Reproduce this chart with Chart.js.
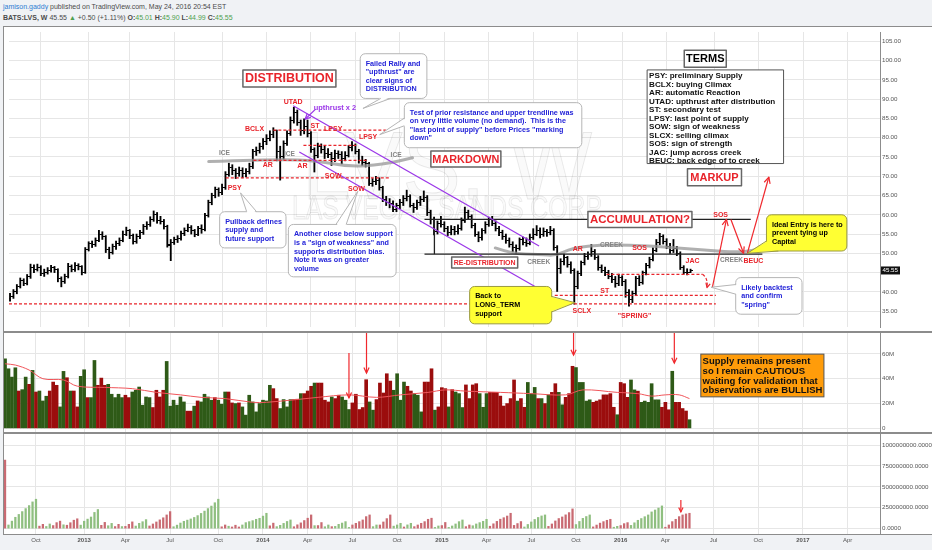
<!DOCTYPE html>
<html>
<head>
<meta charset="utf-8">
<title>LVS weekly</title>
<script src="https://cdn.jsdelivr.net/npm/chart.js@4.4.1/dist/chart.umd.min.js"></script>
<style>
  body { margin: 0; width: 932px; height: 550px; background: #f0f2f5; position: relative; overflow: hidden;
         font-family: "Liberation Sans", Arial, sans-serif; }
  .hd { position: absolute; left: 3px; font-size: 7px; color: #4a4a4a; white-space: nowrap; line-height: 9px; }
  #hd1 { top: 2px; }
  #hd2 { top: 13px; }
  .g { color: #4f9f4f; }
  #panel { position: absolute; left: 3px; top: 26px; width: 929px; height: 507px; background: #fff;
           border-top: 1px solid #8c8c8c; border-left: 1px solid #8c8c8c; border-bottom: 1px solid #8c8c8c; }
  canvas { position: absolute; left: 4px; }
  #c1 { top: 27px; } #c2 { top: 332px; } #c3 { top: 433px; }
  .sep { position: absolute; left: 4px; width: 928px; height: 2px; background: #8c8c8c; }
</style>
</head>
<body>
<div class="hd" id="hd1"><span style="color:#2e7cd2">jamison.gaddy</span> published on TradingView.com, May 24, 2016 20:54 EST</div>
<div class="hd" id="hd2"><b>BATS:LVS, W</b> 45.55 <span class="g">&#9650;</span> +0.50 (+1.11%) <b>O:</b><span class="g">45.01</span> <b>H:</b><span class="g">45.90</span> <b>L:</b><span class="g">44.99</span> <b>C:</b><span class="g">45.55</span></div>
<div id="panel"></div>
<canvas id="c1" width="928" height="305"></canvas>
<canvas id="c2" width="928" height="101"></canvas>
<canvas id="c3" width="928" height="117"></canvas>
<div class="sep" style="top:331px"></div>
<div class="sep" style="top:432px"></div>
<script>
// weekly bars, first bar = week of 2012-07-30, last = 2016-05-23
const open = [
  38.2, 38.7, 40.0, 41.5, 43.0, 42.2, 43.9, 46.4, 45.9, 46.4,
  44.8, 45.1, 45.6, 46.2, 45.8, 43.4, 42.6, 44.0, 46.6, 45.8,
  46.8, 46.5, 45.0, 51.0, 52.5, 52.2, 53.3, 55.0, 54.3, 51.0,
  50.3, 51.8, 52.6, 53.4, 55.0, 55.8, 54.7, 53.1, 54.4, 55.3,
  56.9, 57.5, 58.8, 60.2, 58.5, 58.3, 57.0, 52.0, 52.9, 53.6,
  53.9, 55.2, 56.0, 56.8, 55.8, 55.0, 56.5, 56.2, 59.8, 63.2,
  65.0, 66.5, 65.7, 67.0, 70.5, 72.3, 71.5, 70.7, 71.5, 70.7,
  71.2, 72.5, 76.3, 76.6, 77.6, 79.0, 79.9, 80.9, 81.8, 76.5,
  75.0, 78.5, 81.0, 84.5, 86.5, 84.0, 81.8, 83.0, 81.0, 77.0,
  75.5, 77.6, 77.0, 76.0, 75.7, 74.5, 76.0, 75.7, 74.6, 75.5,
  77.4, 78.0, 76.5, 74.0, 73.6, 73.2, 68.2, 68.6, 69.0, 67.0,
  64.0, 63.1, 63.0, 61.5, 62.3, 63.1, 64.2, 64.8, 62.5, 62.0,
  63.1, 64.0, 64.6, 60.5, 58.9, 55.6, 57.8, 57.5, 56.4, 55.4,
  56.2, 55.6, 56.5, 58.5, 60.6, 59.5, 57.2, 55.0, 54.0, 55.8,
  57.5, 58.9, 57.8, 56.4, 55.3, 54.3, 53.2, 52.4, 51.4, 51.2,
  53.5, 52.9, 52.6, 54.0, 55.0, 56.0, 54.9, 55.6, 55.3, 56.0,
  51.5, 46.0, 47.8, 48.8, 47.2, 45.5, 41.4, 44.7, 47.5, 49.3,
  49.8, 50.5, 49.0, 46.2, 45.6, 45.0, 44.1, 43.2, 42.1, 43.6,
  42.8, 39.8, 38.0, 39.5, 43.5, 42.4, 44.9, 46.8, 48.5, 50.8,
  52.8, 54.3, 53.0, 51.8, 50.7, 51.2, 50.0, 46.2, 45.1, 45.01
];
const high = [
  39.6, 40.6, 41.9, 43.6, 43.4, 44.5, 47.2, 47.0, 47.2, 46.8,
  45.9, 46.3, 46.9, 46.6, 46.0, 43.9, 44.6, 47.4, 47.0, 47.6,
  47.3, 46.8, 51.5, 53.0, 53.2, 54.0, 56.0, 55.6, 54.6, 51.6,
  52.4, 53.2, 54.0, 55.8, 56.8, 56.2, 55.0, 55.0, 56.0, 57.5,
  58.2, 59.5, 61.0, 60.6, 59.6, 58.8, 57.3, 53.6, 54.2, 54.6,
  55.8, 56.6, 57.6, 57.2, 56.2, 57.0, 57.4, 60.4, 63.8, 65.6,
  67.2, 67.0, 68.0, 71.2, 73.4, 73.0, 72.0, 72.4, 72.2, 72.0,
  73.4, 77.0, 77.6, 78.6, 79.8, 80.8, 81.8, 82.6, 82.0, 77.8,
  79.2, 81.8, 85.4, 87.9, 87.2, 84.6, 84.9, 84.6, 81.6, 77.4,
  78.6, 78.4, 77.8, 77.2, 76.2, 76.8, 76.6, 76.4, 76.4, 78.0,
  79.0, 78.4, 77.0, 75.2, 74.4, 73.6, 69.4, 70.0, 69.6, 67.4,
  64.8, 64.2, 63.6, 63.0, 64.0, 65.0, 66.4, 65.2, 63.0, 63.8,
  64.8, 66.2, 65.0, 61.2, 59.4, 58.4, 59.6, 58.2, 57.0, 57.2,
  57.0, 57.4, 59.2, 62.0, 61.2, 60.0, 57.8, 55.6, 56.4, 58.2,
  59.4, 59.6, 58.4, 57.0, 56.0, 55.0, 54.0, 53.0, 52.2, 54.0,
  54.2, 54.0, 55.0, 56.4, 57.2, 56.6, 56.6, 56.2, 57.0, 56.4,
  52.0, 48.6, 49.8, 49.2, 47.8, 46.0, 45.4, 48.0, 50.0, 50.4,
  52.3, 51.0, 49.4, 47.0, 46.4, 45.6, 44.8, 44.0, 44.6, 44.2,
  43.2, 40.6, 40.2, 44.0, 44.2, 45.4, 47.4, 49.0, 51.4, 53.6,
  55.2, 54.8, 53.8, 52.6, 53.6, 51.8, 50.4, 46.8, 46.0, 45.90
];
const low = [
  37.6, 38.3, 39.5, 41.0, 41.6, 41.8, 43.5, 45.0, 45.4, 44.2,
  44.0, 44.6, 45.1, 45.0, 42.6, 41.3, 42.2, 43.6, 45.2, 45.3,
  45.7, 44.4, 44.8, 50.6, 51.5, 51.8, 53.0, 53.6, 50.2, 48.6,
  49.8, 51.0, 52.0, 53.0, 54.6, 53.8, 52.4, 52.6, 53.8, 54.9,
  56.2, 57.0, 58.3, 57.8, 57.6, 56.3, 51.6, 48.1, 52.3, 52.8,
  53.4, 54.6, 55.6, 55.0, 54.3, 54.6, 55.2, 55.8, 59.4, 62.6,
  64.4, 64.8, 65.2, 66.6, 70.0, 70.4, 69.4, 70.0, 69.6, 69.8,
  70.6, 72.0, 75.4, 76.0, 77.0, 78.2, 79.2, 80.0, 74.0, 69.0,
  74.4, 78.0, 80.6, 83.8, 83.2, 80.6, 81.0, 80.2, 76.2, 71.1,
  74.8, 76.0, 74.6, 74.8, 72.8, 73.8, 74.6, 73.2, 74.0, 75.0,
  76.6, 75.8, 73.4, 72.8, 72.4, 67.6, 67.4, 67.8, 66.4, 63.4,
  62.4, 61.8, 60.8, 60.8, 61.6, 62.4, 63.6, 62.0, 60.6, 61.4,
  62.4, 63.4, 59.8, 57.6, 54.8, 55.0, 56.8, 55.6, 54.6, 54.8,
  54.8, 55.0, 56.0, 58.0, 58.8, 56.6, 54.4, 53.0, 53.4, 55.2,
  57.0, 57.2, 55.8, 54.6, 53.6, 52.6, 51.6, 50.4, 50.0, 50.8,
  52.2, 51.8, 52.2, 53.6, 54.6, 54.0, 54.4, 54.4, 54.8, 50.8,
  40.1, 44.8, 47.0, 46.4, 44.8, 36.8, 40.8, 44.2, 47.0, 48.4,
  49.2, 48.4, 45.6, 45.0, 44.2, 43.4, 42.4, 41.2, 41.6, 41.6,
  38.6, 36.3, 37.2, 39.0, 41.6, 42.0, 44.4, 46.2, 48.0, 50.4,
  52.2, 52.4, 51.2, 50.0, 50.2, 49.4, 45.8, 44.6, 44.4, 44.99
];
const close = [
  38.7, 40.0, 41.5, 43.0, 42.2, 43.9, 46.4, 45.9, 46.4, 44.8,
  45.1, 45.6, 46.2, 45.8, 43.4, 42.6, 44.0, 46.6, 45.8, 46.8,
  46.5, 45.0, 51.0, 52.5, 52.2, 53.3, 55.0, 54.3, 51.0, 50.3,
  51.8, 52.6, 53.4, 55.0, 55.8, 54.7, 53.1, 54.4, 55.3, 56.9,
  57.5, 58.8, 60.2, 58.5, 58.3, 57.0, 52.2, 52.9, 53.6, 53.9,
  55.2, 56.0, 56.8, 55.8, 55.0, 56.5, 56.2, 59.8, 63.2, 65.0,
  66.5, 65.7, 67.0, 70.5, 72.3, 71.5, 70.7, 71.5, 70.7, 71.2,
  72.5, 76.3, 76.6, 77.6, 79.0, 79.9, 80.9, 81.8, 76.5, 75.0,
  78.5, 81.0, 84.5, 86.5, 84.0, 81.8, 83.0, 81.0, 77.0, 75.5,
  77.6, 77.0, 76.0, 75.7, 74.5, 76.0, 75.7, 74.6, 75.5, 77.4,
  78.0, 76.5, 74.0, 73.6, 73.2, 68.2, 68.6, 69.0, 67.0, 64.0,
  63.1, 63.0, 61.5, 62.3, 63.1, 64.2, 64.8, 62.5, 62.0, 63.1,
  64.0, 64.6, 60.5, 58.9, 55.6, 57.8, 57.5, 56.4, 55.4, 56.2,
  55.6, 56.5, 58.5, 60.6, 59.5, 57.2, 55.0, 54.0, 55.8, 57.5,
  58.9, 57.8, 56.4, 55.3, 54.3, 53.2, 52.4, 51.4, 51.2, 53.5,
  52.9, 52.6, 54.0, 55.0, 56.0, 54.9, 55.6, 55.3, 56.0, 51.5,
  46.0, 47.8, 48.8, 47.2, 45.5, 41.4, 44.7, 47.5, 49.3, 49.8,
  50.5, 49.0, 46.2, 45.6, 45.0, 44.1, 43.2, 42.1, 43.6, 42.8,
  39.8, 38.0, 39.5, 43.5, 42.4, 44.9, 46.8, 48.5, 50.8, 52.8,
  54.3, 53.0, 51.8, 50.7, 51.2, 50.0, 46.2, 45.1, 45.05, 45.55
];
// weekly volume, millions
const volume = [
  56.0, 48.0, 41.3, 48.8, 30.1, 31.2, 41.3, 35.5, 46.7, 29.3,
  30.1, 22.1, 25.9, 30.1, 37.3, 34.7, 17.3, 45.9, 40.8, 30.1,
  30.1, 17.3, 41.9, 47.2, 24.8, 24.8, 54.7, 34.7, 40.5, 34.7,
  35.5, 27.5, 24.8, 27.5, 24.8, 26.7, 24.8, 29.3, 30.7, 33.3,
  18.7, 25.3, 24.8, 16.8, 30.7, 25.3, 30.7, 53.9, 17.9, 22.7,
  18.7, 25.3, 21.3, 13.9, 13.9, 17.9, 22.1, 21.3, 27.5, 25.3,
  22.7, 24.8, 22.7, 19.5, 29.3, 29.3, 20.5, 20.0, 20.5, 17.3,
  10.7, 26.7, 21.3, 13.3, 20.0, 22.7, 22.1, 34.7, 32.0, 24.0,
  16.0, 23.2, 17.3, 23.2, 23.2, 23.5, 28.0, 28.0, 30.1, 33.9,
  36.5, 36.5, 36.5, 22.7, 21.3, 25.3, 24.0, 26.7, 25.3, 22.7,
  15.2, 20.5, 27.5, 15.2, 16.8, 39.2, 21.3, 14.7, 23.2, 36.5,
  28.5, 44.0, 38.1, 30.7, 44.0, 22.7, 37.3, 33.9, 30.1, 28.0,
  26.7, 13.3, 37.3, 37.3, 48.0, 14.7, 17.3, 32.8, 32.0, 17.3,
  31.2, 29.3, 28.0, 16.8, 35, 24, 35, 36, 28, 17,
  28, 29, 29, 29, 26, 18, 20, 24, 39, 22,
  24, 17, 37, 28, 33, 24, 24, 20, 27, 29,
  36, 29, 19, 25, 28, 50, 49, 37, 37, 22,
  23, 21, 22, 23, 27, 27, 28, 17, 11, 37,
  36, 25, 39, 31, 30, 21, 22, 21, 36, 23,
  23, 17, 21, 15, 46, 21, 21, 16, 14, 7
];
// volume moving average, read at a few bars
const volMaIdx = [0, 3, 7, 11, 17, 21, 29, 37, 44, 51, 57, 64, 72, 76, 84, 91, 100, 108, 115, 123, 128, 134, 144, 153, 163, 168, 178, 184, 188, 192, 196, 199];
const volMaVal = [52, 51, 47, 40, 39, 34, 33, 32, 29, 27, 25, 24, 21, 21, 23, 25, 27, 25, 27, 29, 31, 30, 29, 28, 27, 31, 29, 28, 26, 27, 27, 24];
// wave volume, millions; sign = wave direction (+ up, - down)
const wave = [
  -820, 44, 90, 136, 170, 204, 240, 276, 320, 352,
  -30, -52, 26, 56, -37, -72, -90, 46, -41, -71,
  -101, -118, 42, 89, 114, 139, 194, 229, -40, -75,
  35, 63, -25, -52, 25, -27, -52, -81, 31, 64,
  83, 108, -32, -56, -80, -105, -130, -164, -204, 23,
  42, 67, 88, 102, 116, 134, 156, 182, 210, 240,
  270, 310, 352, -22, -44, 29, -20, -41, -20, 44,
  72, 84, 96, 112, 124, 150, 184, -34, -66, 24,
  40, 63, 86, 104, -23, -46, -69, -97, -125, -164,
  36, -37, -73, 23, 44, -24, 27, 52, 67, 84,
  15, -44, -64, -84, -104, -144, -164, 24, 44, -44,
  -80, -120, -164, 30, 44, 64, -20, 45, 64, -24,
  -44, -64, -84, -112, -125, 15, 32, -37, -74, 15,
  32, 56, 84, 104, -24, -44, 35, 56, 72, 88,
  112, -29, -58, -87, -113, -131, -151, -184, -39, -61,
  -85, 20, 50, 80, 110, 134, 152, 164, -27, -56,
  -92, -121, -140, -165, -192, -236, 49, 86, 123, 145,
  164, -21, -43, -66, -84, -100, -112, 17, 28, -37,
  -60, -72, 39, 70, 100, 121, 143, 164, 200, 223,
  246, 272, -17, -44, -84, -112, -144, -164, -176, -184
];
const xTickIdx = [9, 23, 35, 48, 62, 75, 88, 101, 114, 127, 140, 153, 166, 179, 192, 206, 219, 232, 245];
const xTickText = ['Oct', '2013', 'Apr', 'Jul', 'Oct', '2014', 'Apr', 'Jul', 'Oct', '2015', 'Apr', 'Jul', 'Oct', '2016', 'Apr', 'Jul', 'Oct', '2017', 'Apr'];
const priceTicks = [35, 40, 45, 50, 55, 60, 65, 70, 75, 80, 85, 90, 95, 100, 105];
const volTicks = [0, 20, 40, 60];
const waveTicks = [0, 250, 500, 750, 1000];

const FONT = '"Liberation Sans", Arial, sans-serif';
const RED = '#e8242b', BLUE = '#2323d8', PURPLE = '#9b37e8', GRAY = '#858585';
const idx = close.map((_, i) => i);
const up = close.map((c, i) => c >= open[i]);

// ---- chart notes (bar index / value units) ----
const redTags = [['UTAD', 82.8, 89.35], ['BCLX', 71.5, 82.3], ['ST', 89.2, 83.1], ['LPSY', 94.5, 82.2], ['LPSY', 104.7, 80.3],
  ['AR', 75.4, 72.8], ['AR', 85.5, 72.6], ['PSY', 65.7, 66.9], ['SOW', 94.5, 70.1], ['SOW', 101.3, 66.7],
  ['AR', 166, 51.0], ['SOS', 184.1, 51.4], ['SOS', 207.8, 60.0], ['JAC', 199.6, 47.9], ['ST', 173.9, 40.1],
  ['SCLX', 167.2, 35.1], ['"SPRING"', 182.6, 33.8], ['BEUC', 217.4, 48.1]];
const grayTags = [['ICE', 62.7, 75.9], ['ICE', 81.7, 75.7], ['ICE', 112.9, 75.5], ['CREEK', 154.6, 47.6], ['CREEK', 175.9, 52.2], ['CREEK', 211.0, 48.1]];
const boxTags = [
  { t: 'DISTRIBUTION', i: 81.7, p: 95.4, w: 93, h: 17, size: 12.5, color: RED },
  { t: 'MARKDOWN', i: 133.3, p: 74.5, w: 70, h: 16, size: 11.5, color: RED },
  { t: 'ACCUMULATION?', i: 184.2, p: 58.8, w: 104, h: 16, size: 11.5, color: RED },
  { t: 'MARKUP', i: 206, p: 69.75, w: 54, h: 17, size: 11, color: RED },
  { t: 'TERMS', i: 203.3, p: 100.5, w: 42, h: 17, size: 11, color: '#000' },
  { t: 'RE-DISTRIBUTION', i: 138.8, p: 47.6, w: 66, h: 11, size: 7, color: RED }
];
const terms = ['PSY: preliminary Supply', 'BCLX: buying Climax', 'AR: automatic Reaction', 'UTAD: upthrust after distribution',
  'ST: secondary test', 'LPSY: last point of supply', 'SOW: sign of weakness', 'SLCX: selling climax',
  'SOS: sign of strength', 'JAC: jump across creek', 'BEUC: back edge of to creek'];
const callouts = [
  { r: [102.4, 101.8, 121.9, 90.2], ptr: [108.4, 90.2, 111.3, 90.2, 103.2, 87.6], lines: ['Failed Rally and', '"upthrust" are', 'clear signs of', 'DISTRIBUTION'] },
  { r: [115.3, 89.1, 167.2, 77.4], ptr: [115.3, 85.1, 115.3, 83.1, 108.1, 80.8], lines: ['Test of prior resistance and upper trendline was', 'on very little volume (no demand).  This is the', '"last point of supply" before Prices "marking', 'down"'] },
  { r: [61.3, 60.8, 80.7, 51.4], ptr: [69.2, 60.8, 72.1, 60.8, 67.4, 65.7], lines: ['Pullback defines', 'supply and', 'future support'] },
  { r: [81.4, 57.5, 112.9, 43.9], ptr: [95.3, 57.5, 98.3, 57.5, 101.7, 66.1], lines: ['Another close below support', 'is a "sign of weakness" and', 'supports distribution bias.', 'Note it was on greater', 'volume'] },
  { r: [134.4, 41.4, 158.4, 31.7], ptr: [158.4, 38.8, 158.4, 34.8, 165.2, 37.2], fill: '#ffff33', color: '#000', stroke: '#9a9a40', lines: ['Back to', 'LONG_TERM', 'support'] },
  { r: [221.2, 60.0, 244.7, 50.6], ptr: [221.2, 53.2, 224.7, 50.6, 215.6, 50.0], fill: '#ffff33', color: '#000', stroke: '#9a9a40', lines: ['Ideal Entry is here to', 'prevent tying up', 'Capital'] },
  { r: [212.2, 43.7, 231.6, 34.2], ptr: [212.2, 41.9, 212.2, 39.4, 205, 41.2], lines: ['Likely backtest', 'and confirm', '"spring"'] }
];
const dashedRed = [[77, 109.9, 82.0], [85.8, 101.2, 78.0], [71.2, 104.7, 74.1], [63.1, 111.3, 69.6], [-0.3, 206.4, 36.9], [159.3, 206.4, 39.1], [174.4, 202.5, 44.55]];
const blackLevels = [[121.2, 216.6, 58.8], [121.2, 220, 49.8]];
const purpleLines = [[82.8, 88.3, 154.7, 51.9], [84.6, 76.3, 153.5, 41.4]];
const iceCurve = [[58.1, 73.8], [78.5, 74.5], [90.1, 74.0], [98.8, 72.5], [109.0, 73.0], [117.7, 74.8]];
const creekCurve = [[141.9, 51.4], [146.8, 49.9], [154.7, 49.7], [159.9, 49.4], [164.2, 51.4], [173.8, 52.3], [188.4, 51.9], [202.0, 50.9], [215.7, 50.1], [221.5, 52.4]];
const markupPath = [[205.4, 41.2, 209.5, 58.8], [210.8, 58.8, 214.5, 50.0], [215.6, 50.0, 221.9, 69.8]];
const volArrows = [[100, 60.6, 24.6], [105.1, 77, 44.6], [165.3, 77, 59], [194.6, 77, 52.6]];

function arrowHead(ctx, x1, y1, x2, y2, len) {
  const a = Math.atan2(y2 - y1, x2 - x1);
  ctx.beginPath();
  ctx.moveTo(x2 - len * Math.cos(a - 0.45), y2 - len * Math.sin(a - 0.45));
  ctx.lineTo(x2, y2);
  ctx.lineTo(x2 - len * Math.cos(a + 0.45), y2 - len * Math.sin(a + 0.45));
  ctx.stroke();
}
function smooth(ctx, pts) {
  ctx.beginPath();
  ctx.moveTo(pts[0][0], pts[0][1]);
  for (let k = 1; k < pts.length - 1; k++) {
    const mx = (pts[k][0] + pts[k + 1][0]) / 2, my = (pts[k][1] + pts[k + 1][1]) / 2;
    ctx.quadraticCurveTo(pts[k][0], pts[k][1], mx, my);
  }
  const l = pts[pts.length - 1];
  ctx.lineTo(l[0], l[1]);
  ctx.stroke();
}
function callout(ctx, X, Y, c) {
  const x1 = X(c.r[0]), y1 = Y(c.r[1]), x2 = X(c.r[2]), y2 = Y(c.r[3]);
  const cx = (x1 + x2) / 2, cy = (y1 + y2) / 2;
  ctx.fillStyle = c.fill || '#fff';
  ctx.strokeStyle = c.stroke || '#b5b5b5';
  ctx.lineWidth = 1;
  ctx.beginPath(); ctx.roundRect(x1, y1, x2 - x1, y2 - y1, 5); ctx.fill(); ctx.stroke();
  const [ia, pa, ib, pb, it, pt] = c.ptr;
  const pull = (px, py) => { const d = Math.hypot(cx - px, cy - py); return [px + (cx - px) / d * 1.5, py + (cy - py) / d * 1.5]; };
  const a = pull(X(ia), Y(pa)), b = pull(X(ib), Y(pb));
  ctx.beginPath(); ctx.moveTo(a[0], a[1]); ctx.lineTo(X(it), Y(pt)); ctx.lineTo(b[0], b[1]); ctx.closePath(); ctx.fill();
  ctx.beginPath(); ctx.moveTo(X(ia), Y(pa)); ctx.lineTo(X(it), Y(pt)); ctx.lineTo(X(ib), Y(pb)); ctx.stroke();
  ctx.fillStyle = c.color || BLUE;
  ctx.font = 'bold 7.2px ' + FONT;
  ctx.textAlign = 'left'; ctx.textBaseline = 'middle';
  c.lines.forEach((t, k) => ctx.fillText(t, x1 + 5.5, y1 + 10 + k * 8.55));
}

const priceNotes = {
  id: 'priceNotes',
  beforeDatasetsDraw(chart) {
    const { ctx, chartArea: a } = chart;
    ctx.save();
    ctx.textAlign = 'center'; ctx.textBaseline = 'middle';
    ctx.fillStyle = 'rgba(0,0,0,0.018)';
    ctx.strokeStyle = 'rgba(0,0,0,0.09)';
    ctx.lineWidth = 1;
    ctx.font = '96px ' + FONT;
    ctx.fillText('LVS, W', a.left + 438, a.top + 141, 290);
    ctx.strokeText('LVS, W', a.left + 438, a.top + 141, 290);
    ctx.font = '34px ' + FONT;
    ctx.fillText('LAS VEGAS SANDS CORP', a.left + 438, a.top + 178, 310);
    ctx.strokeText('LAS VEGAS SANDS CORP', a.left + 438, a.top + 178, 310);
    ctx.restore();
  },
  afterDatasetsDraw(chart) {
    const { ctx, chartArea: a, scales: { x, y } } = chart;
    const X = v => x.getPixelForValue(v), Y = v => y.getPixelForValue(v);
    ctx.save();
    ctx.beginPath(); ctx.rect(a.left, a.top, a.width, a.height); ctx.clip();
    ctx.lineCap = 'round'; ctx.lineJoin = 'round';
    // ice / creek
    ctx.strokeStyle = 'rgba(150,150,150,0.75)'; ctx.lineWidth = 3;
    smooth(ctx, iceCurve.map(q => [X(q[0]), Y(q[1])]));
    smooth(ctx, creekCurve.map(q => [X(q[0]), Y(q[1])]));
    // levels
    ctx.lineCap = 'butt';
    ctx.strokeStyle = RED; ctx.lineWidth = 1.2; ctx.setLineDash([3, 2]);
    dashedRed.forEach(([i1, i2, p]) => { ctx.beginPath(); ctx.moveTo(X(i1), Y(p)); ctx.lineTo(X(i2), Y(p)); ctx.stroke(); });
    ctx.beginPath(); ctx.moveTo(X(202.5), Y(44.55)); ctx.quadraticCurveTo(X(204.2), Y(43.5), X(203.8), Y(41.1)); ctx.stroke();
    ctx.setLineDash([]);
    arrowHead(ctx, X(204.2), Y(42.5), X(203.8), Y(41.1), 5);
    ctx.strokeStyle = '#222'; ctx.lineWidth = 1.3;
    blackLevels.forEach(([i1, i2, p]) => { ctx.beginPath(); ctx.moveTo(X(i1), Y(p)); ctx.lineTo(X(i2), Y(p)); ctx.stroke(); });
    ctx.beginPath(); ctx.moveTo(X(124.1), Y(58.8)); ctx.lineTo(X(124.1), Y(49.8)); ctx.stroke();
    // channel
    ctx.strokeStyle = PURPLE; ctx.lineWidth = 1.3;
    purpleLines.forEach(([i1, p1, i2, p2]) => { ctx.beginPath(); ctx.moveTo(X(i1), Y(p1)); ctx.lineTo(X(i2), Y(p2)); ctx.stroke(); });
    ctx.beginPath(); ctx.moveTo(X(89.2), Y(87.3)); ctx.lineTo(X(86.3), Y(84.8)); ctx.stroke();
    arrowHead(ctx, X(89.2), Y(87.3), X(86.3), Y(84.8), 6);
    // markup path
    ctx.strokeStyle = '#f0282d'; ctx.lineWidth = 1.2;
    markupPath.forEach(([i1, p1, i2, p2]) => {
      ctx.beginPath(); ctx.moveTo(X(i1), Y(p1)); ctx.lineTo(X(i2), Y(p2)); ctx.stroke();
      arrowHead(ctx, X(i1), Y(p1), X(i2), Y(p2), 7);
    });
    // callouts
    callouts.forEach(c => callout(ctx, X, Y, c));
    // terms list
    const tx1 = X(186.3), ty1 = Y(97.6), tx2 = X(226.2), ty2 = Y(73.3);
    ctx.fillStyle = '#fff'; ctx.strokeStyle = '#555'; ctx.lineWidth = 1;
    ctx.fillRect(tx1, ty1, tx2 - tx1, ty2 - ty1); ctx.strokeRect(tx1, ty1, tx2 - tx1, ty2 - ty1);
    ctx.fillStyle = '#111'; ctx.font = 'bold 8.1px ' + FONT; ctx.textAlign = 'left'; ctx.textBaseline = 'middle';
    terms.forEach((t, k) => ctx.fillText(t, tx1 + 2, ty1 + 6.3 + k * 8.47, tx2 - tx1 - 4));
    // boxed titles
    boxTags.forEach(b => {
      const cx = X(b.i), cy = Y(b.p);
      ctx.fillStyle = '#fff'; ctx.strokeStyle = '#666'; ctx.lineWidth = 1.5;
      ctx.fillRect(cx - b.w / 2, cy - b.h / 2, b.w, b.h); ctx.strokeRect(cx - b.w / 2, cy - b.h / 2, b.w, b.h);
      ctx.fillStyle = b.color; ctx.font = 'bold ' + b.size + 'px ' + FONT; ctx.textAlign = 'center';
      ctx.fillText(b.t, cx, cy + 0.5, b.w - 3);
    });
    // small tags
    ctx.textAlign = 'center';
    ctx.font = 'bold 7px ' + FONT; ctx.fillStyle = RED;
    redTags.forEach(([t, i, p]) => ctx.fillText(t, X(i), Y(p)));
    ctx.font = 'bold 6.6px ' + FONT; ctx.fillStyle = GRAY;
    grayTags.forEach(([t, i, p]) => ctx.fillText(t, X(i), Y(p)));
    ctx.font = 'bold 7.4px ' + FONT; ctx.fillStyle = PURPLE;
    ctx.fillText('upthrust x 2', X(95), Y(87.8));
    ctx.restore();
  },
  afterDraw(chart) {
    const { ctx, chartArea: a, scales: { y } } = chart;
    const last = close[close.length - 1], yy = y.getPixelForValue(last);
    ctx.save();
    ctx.fillStyle = '#111'; ctx.fillRect(a.right + 1, yy - 4, 19, 8);
    ctx.fillStyle = '#fff'; ctx.font = '6.2px ' + FONT; ctx.textAlign = 'left'; ctx.textBaseline = 'middle';
    ctx.fillText(last.toFixed(2), a.right + 2.5, yy + 0.3);
    ctx.restore();
  }
};

const volNotes = {
  id: 'volNotes',
  afterDatasetsDraw(chart) {
    const { ctx, scales: { x, y } } = chart;
    const X = v => x.getPixelForValue(v), Y = v => y.getPixelForValue(v);
    ctx.save();
    ctx.strokeStyle = '#f0282d'; ctx.lineWidth = 1.2;
    volArrows.forEach(([i, v1, v2]) => {
      ctx.beginPath(); ctx.moveTo(X(i), Y(v1)); ctx.lineTo(X(i), Y(v2)); ctx.stroke();
      arrowHead(ctx, X(i), Y(v1), X(i), Y(v2), 6);
    });
    const bx1 = X(202.3), by1 = Y(59.8), bx2 = X(238.1), by2 = Y(25.4);
    ctx.fillStyle = '#ff9c0a'; ctx.strokeStyle = '#555'; ctx.lineWidth = 1;
    ctx.fillRect(bx1, by1, bx2 - bx1, by2 - by1); ctx.strokeRect(bx1, by1, bx2 - bx1, by2 - by1);
    ctx.fillStyle = '#111'; ctx.font = 'bold 9.5px ' + FONT; ctx.textAlign = 'left'; ctx.textBaseline = 'middle';
    ['Supply remains present', 'so I remain CAUTIOUS', 'waiting for validation that', 'observations are BULLISH']
      .forEach((t, k) => ctx.fillText(t, bx1 + 1.8, by1 + 7.7 + k * 9.67, bx2 - bx1 - 3));
    ctx.restore();
  }
};
const waveNotes = {
  id: 'waveNotes',
  afterDatasetsDraw(chart) {
    const { ctx, scales: { x, y } } = chart;
    const X = v => x.getPixelForValue(v), Y = v => y.getPixelForValue(v);
    ctx.save();
    ctx.strokeStyle = '#f0282d'; ctx.lineWidth = 1.2;
    ctx.beginPath(); ctx.moveTo(X(196.5), Y(344)); ctx.lineTo(X(196.5), Y(200)); ctx.stroke();
    arrowHead(ctx, X(196.5), Y(344), X(196.5), Y(200), 5);
    ctx.restore();
  }
};

function xAxis(show) {
  return {
    type: 'linear', min: -0.3, max: 254.4, bounds: 'data', offset: false,
    afterBuildTicks: s => { s.ticks = xTickIdx.map(v => ({ value: v })); },
    grid: { color: '#e6e6e6', drawTicks: false, offset: false },
    border: { display: false },
    ticks: show ? {
      autoSkip: false, maxRotation: 0, padding: 3, color: '#555',
      callback: (v, k) => xTickText[k],
      font: c => ({ size: 6, family: FONT, weight: /^\d{4}$/.test(xTickText[c.index]) ? 'bold' : 'normal' })
    } : { display: false },
    afterFit: s => { s.height = show ? 16 : 0; s.paddingLeft = 0; s.paddingRight = 0; }
  };
}
function yAxis(min, max, ticks, fmt) {
  return {
    position: 'right', min, max, bounds: 'data', beginAtZero: false,
    afterBuildTicks: s => { s.ticks = ticks.map(v => ({ value: v })); },
    ticks: { callback: fmt, font: { size: 6.2, family: FONT }, color: '#555', padding: 2 },
    grid: { color: '#e6e6e6', drawTicks: false },
    border: { display: true, color: '#8c8c8c' },
    afterFit: s => { s.width = 52; s.paddingTop = 0; s.paddingBottom = 0; }
  };
}
const common = {
  responsive: false, animation: false, devicePixelRatio: 1, events: [],
  layout: { padding: 0 },
  plugins: { legend: { display: false }, tooltip: { enabled: false } }
};
function tickImg(left) {
  const c = document.createElement('canvas');
  c.width = 5; c.height = 1;
  const g = c.getContext('2d');
  g.fillStyle = '#000';
  g.fillRect(left ? 0 : 3, 0, 2, 1);
  return c;
}

new Chart(document.getElementById('c1'), {
  type: 'bar',
  data: {
    datasets: [
      { type: 'bar', data: idx.map(i => ({ x: i, y: [low[i], high[i]] })), backgroundColor: '#000', barThickness: 1.2, grouped: false },
      { type: 'scatter', data: idx.map(i => ({ x: i, y: open[i] })), pointStyle: tickImg(true), pointRadius: 2 },
      { type: 'scatter', data: idx.map(i => ({ x: i, y: close[i] })), pointStyle: tickImg(false), pointRadius: 2 }
    ]
  },
  options: { ...common, scales: { x: xAxis(false), y: yAxis(30.88, 107.44, priceTicks, v => v.toFixed(2)) } },
  plugins: [priceNotes]
});

new Chart(document.getElementById('c2'), {
  type: 'bar',
  data: {
    datasets: [
      { type: 'line', data: volMaIdx.map((v, k) => ({ x: v, y: volMaVal[k] })), borderColor: '#f0555a', borderWidth: 1, pointRadius: 0, tension: 0.35 },
      { type: 'bar', data: idx.map(i => ({ x: i, y: volume[i] })), backgroundColor: idx.map(i => up[i] ? '#2e5a17' : '#9b0d0d'), barThickness: 3, grouped: false }
    ]
  },
  options: { ...common, scales: { x: xAxis(false), y: yAxis(-3.7, 77.6, volTicks, v => v === 0 ? '0' : v + 'M') } },
  plugins: [volNotes]
});

new Chart(document.getElementById('c3'), {
  type: 'bar',
  data: {
    datasets: [
      { type: 'bar', data: idx.map(i => ({ x: i, y: Math.abs(wave[i]) })), backgroundColor: idx.map(i => wave[i] >= 0 ? '#8fbf80' : '#c96a72'), barThickness: 1.6, grouped: false }
    ]
  },
  options: { ...common, scales: { x: xAxis(true), y: yAxis(-64, 1144, waveTicks, v => (v * 1e6).toFixed(4)) } },
  plugins: [waveNotes]
});
</script>
</body>
</html>
